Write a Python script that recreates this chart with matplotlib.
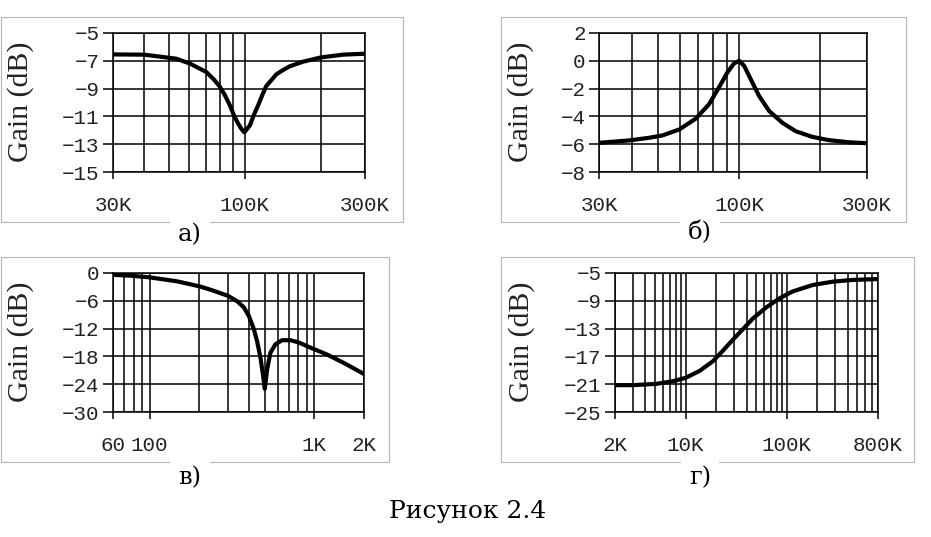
import matplotlib
matplotlib.use('Agg')
import matplotlib.pyplot as plt
from matplotlib.patches import Rectangle
from matplotlib.ticker import LogLocator, NullFormatter
import numpy as np

# panel a) - notch around 100K, freq in kHz
a_f = [30, 40, 53.5, 60.6, 70.3, 75, 79.4, 83.2, 87.1, 90.5, 94, 97, 99.6,
       104.9, 108.6, 113.2, 117.5, 121.6, 133.3, 142, 150.6, 169.9, 200, 245, 300]
a_g = [-6.54, -6.56, -6.85, -7.2, -7.8, -8.3, -8.83, -9.44, -10.17, -10.9, -11.5, -11.9, -12.15,
       -11.63, -10.9, -10.17, -9.44, -8.83, -7.98, -7.66, -7.4, -7.07, -6.76, -6.56, -6.49]

# panel б) - peak at 100K, kHz
b_f = [30, 38.8, 46.1, 51.7, 59.8, 68.8, 77.2, 84, 90.4, 95.7, 100, 104.4, 110.5,
       118.7, 129.4, 145, 162.4, 187.3, 216.3, 257, 300]
b_g = [-5.9, -5.73, -5.54, -5.37, -4.94, -4.17, -3.13, -1.93, -0.84, -0.19, 0.0, -0.36, -1.33,
       -2.53, -3.61, -4.46, -5.06, -5.47, -5.71, -5.86, -5.93]

# panel в) - low pass with notch near 500 Hz, Hz
c_f = [60, 76.7, 100, 147, 202, 234, 298, 340, 373, 400, 429, 449, 471, 489, 500,
       517, 541, 580, 637, 715, 804, 946, 1194, 1506, 2000]
c_g = [-0.4, -0.58, -0.94, -1.8, -2.9, -3.6, -4.9, -6.1, -7.4, -9.25, -12.1, -14.7, -18.3, -22.3, -25.0,
       -20.8, -17.2, -15.4, -14.5, -14.5, -15.0, -16.1, -17.6, -19.4, -21.8]

# panel г) - high shelf, kHz
d_f = [2, 3.02, 5.13, 7.5, 10, 13.7, 18.6, 23.3, 29.3, 36.8, 46.2, 62.5, 84.7, 114.6,
       180.6, 284, 448, 800]
d_g = [-21.14, -21.14, -20.95, -20.57, -20.08, -19.1, -17.7, -16.2, -14.6, -13.1, -11.55, -9.96, -8.66, -7.65,
       -6.73, -6.25, -6.0, -5.87]

a_xt = [30e3, 100e3, 300e3]
a_xl = ['30K', '100K', '300K']
a_yt = [-15, -13, -11, -9, -7, -5]
a_yl = ['\u221215', '\u221213', '\u221211', '\u22129', '\u22127', '\u22125']

b_yt = [-8, -6, -4, -2, 0, 2]
b_yl = ['\u22128', '\u22126', '\u22124', '\u22122', '0', '2']

c_xt = [60, 100, 1000, 2000]
c_xl = ['60', '100', '1K', '2K']
c_yt = [-30, -24, -18, -12, -6, 0]
c_yl = ['\u221230', '\u221224', '\u221218', '\u221212', '\u22126', '0']

d_xt = [2e3, 10e3, 100e3, 800e3]
d_xl = ['2K', '10K', '100K', '800K']
d_yt = [-25, -21, -17, -13, -9, -5]
d_yl = ['\u221225', '\u221221', '\u221217', '\u221213', '\u22129', '\u22125']

W, H = 931, 537
fig = plt.figure(figsize=(W/100, H/100), dpi=100)
fig.patch.set_facecolor('white')

def box(x0, y0, x1, y1):
    return [x0/W, 1-y1/H, (x1-x0)/W, (y1-y0)/H]

def panel(rect, f, g, xlim, ylim, xt, xl, yt, yl):
    ax = fig.add_axes(rect)
    ax.semilogx(f, g, color='k', lw=3.0, solid_joinstyle='round', zorder=3)
    ax.set_xlim(xlim)
    ax.set_ylim(ylim)
    ax.set_xticks(xt, xl)
    ax.xaxis.set_minor_locator(LogLocator(base=10, subs=np.arange(2, 10)*1.0, numticks=60))
    ax.xaxis.set_minor_formatter(NullFormatter())
    ax.set_yticks(yt, yl)
    ax.grid(True, which='both', axis='x', color='k', lw=1.1)
    ax.grid(True, which='major', axis='y', color='k', lw=1.1)
    ax.tick_params(axis='x', which='major', length=5, width=1.1, pad=12,
                   labelsize=15, labelfontfamily='Liberation Mono', labelcolor='#222222')
    ax.tick_params(axis='x', which='minor', length=0)
    ax.tick_params(axis='y', length=7.2, width=1.1, pad=2.5,
                   labelsize=15, labelfontfamily='Liberation Mono', labelcolor='#222222')
    for s in ax.spines.values():
        s.set_linewidth(1.1)
    return ax

panel(box(113, 33, 365, 172), np.array(a_f)*1e3, a_g, (30e3, 300e3), (-15, -5), a_xt, a_xl, a_yt, a_yl)
panel(box(599, 33, 867, 172), np.array(b_f)*1e3, b_g, (30e3, 300e3), (-8, 2), a_xt, a_xl, b_yt, b_yl)
panel(box(113, 273, 364, 412), c_f, c_g, (60, 2000), (-30, 0), c_xt, c_xl, c_yt, c_yl)
panel(box(615, 273, 878, 412), np.array(d_f)*1e3, d_g, (2e3, 800e3), (-25, -5), d_xt, d_xl, d_yt, d_yl)

# light grey frames round each panel
for x0, y0, x1, y1 in [(0.5, 17, 403, 222), (501, 17, 906, 222), (0.5, 257, 389, 462), (501, 257, 914, 462)]:
    fig.add_artist(Rectangle((x0/W, 1-y1/H), (x1-x0)/W, (y1-y0)/H, transform=fig.transFigure,
                             fill=False, ec='#b4b4b4', lw=0.8, zorder=0))

for x, y in [(21, 102), (521, 102), (21, 342), (522, 342)]:
    fig.text(x/W, 1-y/H, 'Gain (dB)', rotation=90, ha='center', va='center',
             family='Liberation Serif', fontsize=21.5, color='#222222')

for x, y, s in [(190, 235, 'а)'), (700, 233, 'б)'), (190, 478, 'в)'), (700, 478, 'г)')]:
    fig.text(x/W, 1-y/H, s, ha='center', va='center', family='DejaVu Serif', fontsize=17.5,
             bbox=dict(facecolor='white', edgecolor='none', pad=6), zorder=5)

fig.text(468/W, 1-518/H, 'Рисунок 2.4', ha='center', va='baseline', family='DejaVu Serif', fontsize=18)

fig.savefig('out.png', dpi=100)
